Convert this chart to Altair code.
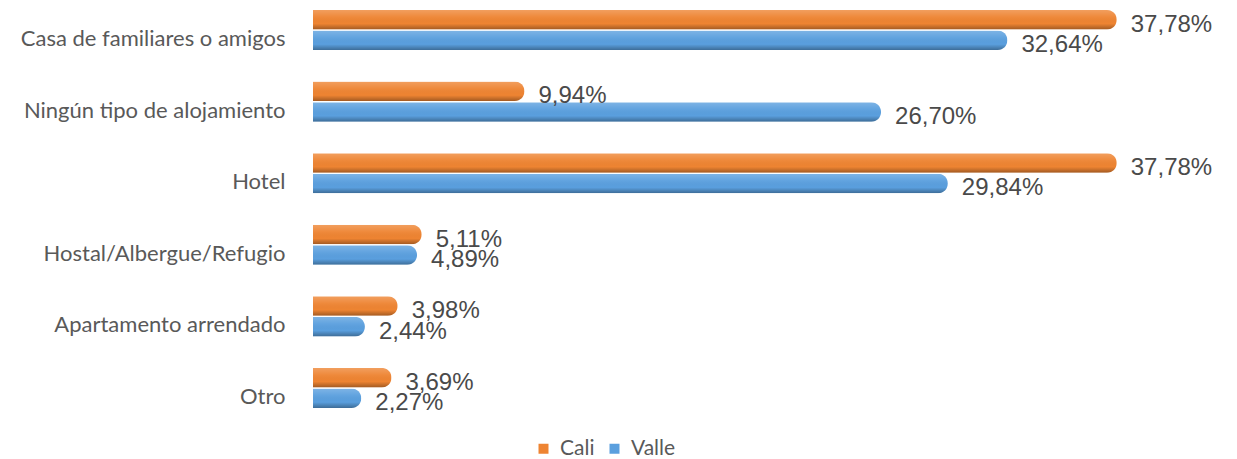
import altair as alt
import pandas as pd

categories = ["Casa de familiares o amigos", "Ningún tipo de alojamiento", "Hotel",
              "Hostal/Albergue/Refugio", "Apartamento arrendado", "Otro"]
series = ["Cali", "Valle"]
cali = [37.78, 9.94, 37.78, 5.11, 3.98, 3.69]
valle = [32.64, 26.70, 29.84, 4.89, 2.44, 2.27]
colors = ["#EE8432", "#5A9FDE"]

rows = []
for c, a, b in zip(categories, cali, valle):
    for s, v in zip(series, [a, b]):
        rows.append({"cat": c, "serie": s, "valor": v,
                     "etiqueta": f"{v:.2f}".replace(".", ",") + "%"})
df = pd.DataFrame(rows)

y_enc = alt.Y("cat:N", sort=categories,
              scale=alt.Scale(paddingInner=0.44, paddingOuter=0),
              axis=alt.Axis(title=None, ticks=False, domain=False, labelFont="Lato",
                            labelFontSize=22, labelColor="#595959", labelPadding=28,
                            labelOffset=9, minExtent=300, maxExtent=300, labelLimit=400))
yoff_enc = alt.YOffset("serie:N", sort=series, scale=alt.Scale(paddingInner=0.05))
x_enc = alt.X("valor:Q", scale=alt.Scale(domain=[0, 40]), axis=None)

base = alt.Chart(df)

bars = base.mark_bar(cornerRadiusEnd=10).encode(
    x=x_enc, y=y_enc, yOffset=yoff_enc,
    color=alt.Color("serie:N", sort=series,
                    scale=alt.Scale(domain=series, range=colors),
                    legend=alt.Legend(title=None, orient="none", legendX=220, legendY=428,
                                      direction="horizontal", symbolType="square",
                                      symbolSize=100, symbolStrokeWidth=0,
                                      labelFont="Lato", labelFontSize=21,
                                      labelColor="#595959", labelOffset=6,
                                      columnPadding=9, padding=0)),
)

shade = alt.LinearGradient(
    gradient="linear", x1=0, x2=0, y1=0, y2=1,
    stops=[alt.GradientStop(offset=0, color="rgba(255,255,255,0.22)"),
           alt.GradientStop(offset=0.35, color="rgba(255,255,255,0.05)"),
           alt.GradientStop(offset=0.7, color="rgba(0,0,0,0)"),
           alt.GradientStop(offset=1, color="rgba(0,0,0,0.32)")])

overlay = base.mark_bar(cornerRadiusEnd=10, fill=shade).encode(
    x=x_enc, y=y_enc, yOffset=yoff_enc,
)

text = base.mark_text(align="left", baseline="middle", dx=14, dy=5,
                      font="Liberation Sans", fontSize=24, color="#4a4a4a").encode(
    x=x_enc, y=y_enc, yOffset=yoff_enc, text="etiqueta:N",
)

chart = alt.layer(bars, overlay, text).properties(
    width=851, height=398, background="white",
    padding={"left": 5, "top": 2, "right": 5, "bottom": 0},
).configure_view(stroke=None)

chart.save("out.html", embed_options={"renderer": "svg", "actions": False})
